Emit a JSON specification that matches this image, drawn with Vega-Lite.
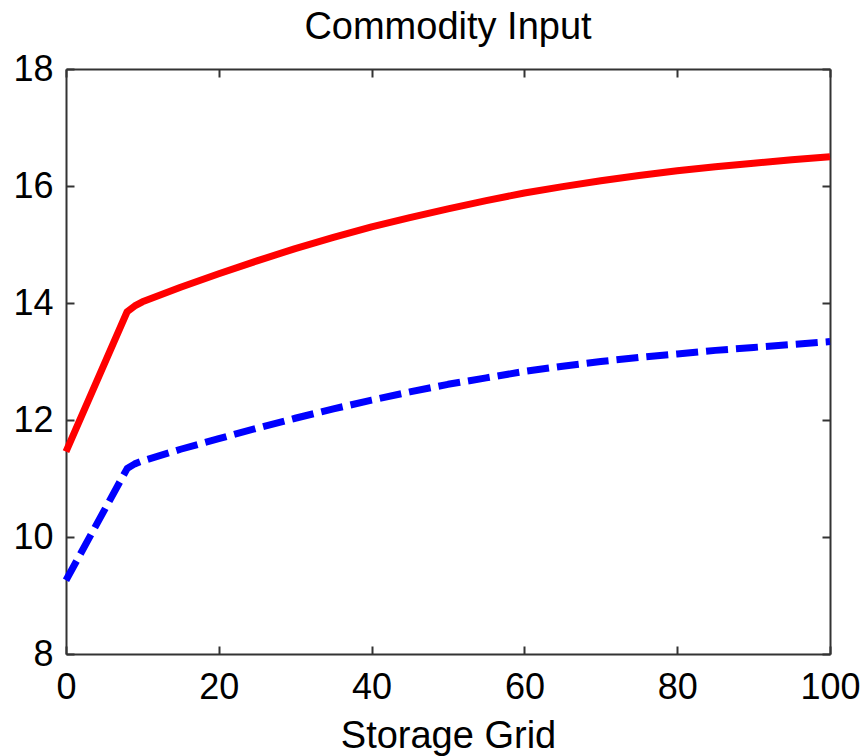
{
  "$schema": "https://vega.github.io/schema/vega-lite/v6.json",
  "width": 764,
  "height": 585,
  "autosize": {"type": "none"},
  "padding": {"left": 66, "top": 69, "right": 35, "bottom": 102},
  "background": "white",
  "title": {"text": "Commodity Input", "fontSize": 38, "font": "Liberation Sans", "fontWeight": "normal", "color": "black", "anchor": "middle", "frame": "group", "baseline": "alphabetic", "offset": 0, "dy": 26},
  "config": {
    "view": {"stroke": null},
    "axis": {
      "grid": false,
      "domainColor": "#333333",
      "domainWidth": 2,
      "tickColor": "#333333",
      "tickWidth": 2,
      "tickSize": -8,
      "labelFont": "Liberation Sans",
      "labelFontSize": 36,
      "labelColor": "black",
      "labelFlush": false,
      "labelOverlap": false,
      "titleFont": "Liberation Sans",
      "titleFontSize": 38,
      "titleFontWeight": "normal",
      "titleColor": "black"
    }
  },
  "datasets": {
    "rows": [
      {"series": "red", "x": 0, "y": 11.46},
      {"series": "red", "x": 8, "y": 13.85},
      {"series": "red", "x": 9, "y": 13.95},
      {"series": "red", "x": 10, "y": 14.02},
      {"series": "red", "x": 15, "y": 14.27},
      {"series": "red", "x": 20, "y": 14.5},
      {"series": "red", "x": 25, "y": 14.72},
      {"series": "red", "x": 30, "y": 14.93},
      {"series": "red", "x": 35, "y": 15.12},
      {"series": "red", "x": 40, "y": 15.3},
      {"series": "red", "x": 45, "y": 15.46},
      {"series": "red", "x": 50, "y": 15.61},
      {"series": "red", "x": 55, "y": 15.75},
      {"series": "red", "x": 60, "y": 15.88},
      {"series": "red", "x": 65, "y": 15.99},
      {"series": "red", "x": 70, "y": 16.09},
      {"series": "red", "x": 75, "y": 16.18},
      {"series": "red", "x": 80, "y": 16.26},
      {"series": "red", "x": 85, "y": 16.33},
      {"series": "red", "x": 90, "y": 16.39},
      {"series": "red", "x": 95, "y": 16.45},
      {"series": "red", "x": 100, "y": 16.5},
      {"series": "blue", "x": 0, "y": 9.26},
      {"series": "blue", "x": 8, "y": 11.17},
      {"series": "blue", "x": 9, "y": 11.25},
      {"series": "blue", "x": 10, "y": 11.3},
      {"series": "blue", "x": 15, "y": 11.5},
      {"series": "blue", "x": 20, "y": 11.68},
      {"series": "blue", "x": 25, "y": 11.86},
      {"series": "blue", "x": 30, "y": 12.03},
      {"series": "blue", "x": 35, "y": 12.19},
      {"series": "blue", "x": 40, "y": 12.34},
      {"series": "blue", "x": 45, "y": 12.48},
      {"series": "blue", "x": 50, "y": 12.61},
      {"series": "blue", "x": 55, "y": 12.72},
      {"series": "blue", "x": 60, "y": 12.83},
      {"series": "blue", "x": 65, "y": 12.92},
      {"series": "blue", "x": 70, "y": 13.0},
      {"series": "blue", "x": 75, "y": 13.07},
      {"series": "blue", "x": 80, "y": 13.13},
      {"series": "blue", "x": 85, "y": 13.19},
      {"series": "blue", "x": 90, "y": 13.24},
      {"series": "blue", "x": 95, "y": 13.29},
      {"series": "blue", "x": 100, "y": 13.34}
    ]
  },
  "data": {"name": "rows"},
  "layer": [
    {
      "transform": [{"filter": "datum.series === 'red'"}],
      "mark": {"type": "line", "color": "#ff0000", "strokeWidth": 7, "strokeJoin": "round"},
      "encoding": {
        "x": {
          "field": "x", "type": "quantitative",
          "scale": {"domain": [0, 100], "nice": false, "zero": false},
          "axis": {"orient": "bottom", "values": [0, 20, 40, 60, 80, 100], "labelBaseline": "alphabetic", "labelPadding": 52, "title": "Storage Grid", "titleBaseline": "alphabetic", "titleY": 93}
        },
        "y": {
          "field": "y", "type": "quantitative",
          "scale": {"domain": [8, 18], "nice": false, "zero": false},
          "axis": {"orient": "left", "values": [8, 10, 12, 14, 16, 18], "labelBaseline": "middle", "labelPadding": 21, "title": null}
        }
      }
    },
    {
      "transform": [{"filter": "datum.series === 'blue'"}],
      "mark": {"type": "line", "color": "#0000ff", "strokeWidth": 7, "strokeDash": [22, 8], "strokeJoin": "round"},
      "encoding": {
        "x": {
          "field": "x", "type": "quantitative",
          "scale": {"domain": [0, 100], "nice": false, "zero": false},
          "axis": {"orient": "top", "values": [0, 20, 40, 60, 80, 100], "labels": false, "title": null}
        },
        "y": {
          "field": "y", "type": "quantitative",
          "scale": {"domain": [8, 18], "nice": false, "zero": false},
          "axis": {"orient": "right", "values": [8, 10, 12, 14, 16, 18], "labels": false, "title": null}
        }
      }
    }
  ],
  "resolve": {"axis": {"x": "independent", "y": "independent"}}
}
